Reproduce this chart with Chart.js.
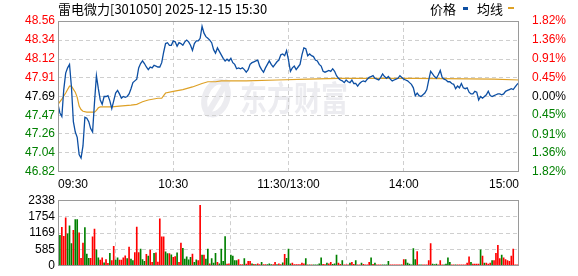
<!DOCTYPE html>
<html>
<head>
<meta charset="utf-8">
<script src="https://cdn.jsdelivr.net/npm/chart.js@4"></script>
<style>
  body { margin: 0; background: #fff; }
  #wrap { position: relative; width: 578px; height: 276px; }
  canvas { position: absolute; left: 0; }
  #prezzo { top: 0; }
  #volume { top: 190px; }
</style>
</head>
<body>
<div id="wrap">
  <canvas id="prezzo" width="578" height="192"></canvas>
  <canvas id="volume" width="578" height="86"></canvas>
</div>
<script>
const titolo = "雷电微力[301050] 2025-12-15 15:30";
const prevClose = 47.69;

// asse tempo: indice del minuto (0 = 09:30, 120 = 11:30/13:00, 240 = 15:00)
const timeTicks = [0, 60, 120, 180, 240];
const timeLabels = ["09:30", "10:30", "11:30/13:00", "14:00", "15:00"];
const priceTicks = [48.56, 48.34, 48.12, 47.91, 47.69, 47.47, 47.26, 47.04, 46.82];
const pctTicks = [1.82, 1.36, 0.91, 0.45, 0, -0.45, -0.91, -1.36, -1.82];
const volTicks = [0, 585, 1169, 1754, 2338];

// prezzo minuto per minuto
const price = [
  47.60, 47.50, 47.46, 47.77, 47.96, 48.02, 48.06, 47.80, 47.40, 47.28,
  47.22, 47.02, 46.98, 47.12, 47.45, 47.44, 47.40, 47.32, 47.28, 47.62,
  47.93, 47.78, 47.65, 47.60, 47.69, 47.69, 47.70, 47.64, 47.55, 47.64,
  47.73, 47.76, 47.72, 47.67, 47.69, 47.68, 47.69, 47.72, 47.78, 47.85,
  47.87, 47.89, 48.02, 48.07, 48.10, 48.07, 48.03, 48.00, 48.03, 48.02,
  48.05, 48.04, 48.03, 48.03, 48.08, 48.20, 48.30, 48.31, 48.28, 48.28,
  48.33, 48.32, 48.27, 48.31, 48.30, 48.28, 48.32, 48.34, 48.32, 48.28,
  48.22, 48.30, 48.33, 48.33, 48.36, 48.50, 48.42, 48.38, 48.36, 48.34,
  48.31, 48.23, 48.19, 48.25, 48.21, 48.17, 48.13, 48.10, 48.12, 48.10,
  48.13, 48.08, 48.06, 48.01, 48.02, 48.01, 48.02, 48.00, 47.97, 48.00,
  48.06, 48.08, 48.09, 48.10, 48.11, 48.04, 48.00, 47.97, 48.02, 48.06,
  48.10, 48.06, 48.03, 48.06, 48.09, 48.11, 48.17, 48.18, 48.16, 48.22,
  48.11, 47.98, 48.02, 48.04, 48.00, 48.03, 48.06, 48.17, 48.25, 48.24,
  48.16, 48.18, 48.16, 48.15, 48.11, 48.10, 48.06, 48.04, 47.98, 47.97,
  47.98, 47.99, 47.98, 48.01, 47.98, 47.93, 47.90, 47.88, 47.87, 47.85,
  47.88, 47.86, 47.85, 47.88, 47.84, 47.84, 47.81, 47.84, 47.86, 47.87,
  47.86, 47.89, 47.91, 47.92, 47.93, 47.90, 47.89, 47.88, 47.91, 47.95,
  47.92, 47.90, 47.92, 47.89, 47.87, 47.88, 47.89, 47.90, 47.93, 47.91,
  47.89, 47.88, 47.87, 47.85, 47.83, 47.79, 47.70, 47.73, 47.70, 47.69,
  47.71, 47.73, 47.77, 47.88, 47.98, 47.95, 47.92, 47.90, 47.94, 47.99,
  47.91, 47.89, 47.88, 47.86, 47.86, 47.84, 47.83, 47.78, 47.81, 47.79,
  47.84, 47.79, 47.78, 47.79, 47.74, 47.72, 47.72, 47.75, 47.74, 47.65,
  47.69, 47.67, 47.69, 47.71, 47.75, 47.70, 47.69, 47.70, 47.71, 47.72,
  47.72, 47.71, 47.72, 47.75, 47.76, 47.77, 47.78, 47.77, 47.80, 47.83,
  47.85
];

// linea media (letta a punti)
const avgMinutes = [0, 2, 4, 5, 6, 7, 9, 10, 11, 12, 13, 15, 19, 20, 21, 22, 28, 32, 38, 41,
  42, 44, 47, 52, 54, 55, 56, 60, 65, 70, 75, 78, 82, 85, 98, 114, 130, 146, 186, 227, 240];
const avgValues = [47.60, 47.66, 47.73, 47.77, 47.81, 47.81, 47.74, 47.68, 47.58, 47.54,
  47.52, 47.51, 47.51, 47.53, 47.56, 47.57, 47.57, 47.58, 47.59, 47.60,
  47.61, 47.63, 47.65, 47.67, 47.67, 47.70, 47.73, 47.75, 47.77, 47.80,
  47.84, 47.86, 47.86, 47.87, 47.87, 47.88, 47.89, 47.90, 47.90, 47.89, 47.88];

// volume per minuto
const volume = [
  1390, 1085, 1369, 1053, 1706, 1137, 1421, 790, 1264, 1643,
  1643, 1179, 263, 811, 1358, 421, 263, 263, 1032, 1306,
  569, 284, 200, 284, 105, 221, 84, 442, 190, 695,
  200, 284, 200, 200, 284, 358, 253, 663, 242, 190,
  474, 1379, 474, 600, 221, 158, 411, 347, 558, 126,
  442, 463, 137, 1674, 1032, 1032, 495, 432, 432, 390,
  305, 326, 463, 126, 811, 621, 242, 316,
  211, 305, 421, 126, 211, 190, 2159, 379, 379, 242,
  600, 74, 253, 95, 442, 126, 74, 600, 158, 1042,
  63, 74, 379, 347, 190, 190, 221, 42, 42, 253,
  63, 158, 158, 74, 53, 42, 74, 42, 126, 42,
  42, 42, 74, 42, 42, 126, 42, 74, 42, 105,
  411, 263, 600, 74, 95, 42, 42, 42, 42, 95,
  74, 253, 32, 32, 32, 32, 32, 32, 74, 284,
  53, 42, 95, 74, 126, 53, 74, 379, 95, 53,
  190, 32, 32, 32, 95, 126, 53, 190, 32, 32,
  95, 53, 32, 32, 126, 284, 53, 95, 32,
  32, 32, 32, 32, 32, 158, 32, 32, 32, 32,
  32, 32, 32, 221, 221, 95, 63, 32, 611, 221,
  505, 32, 32, 32, 32, 32, 190, 790, 63, 42,
  63, 32, 190, 32, 32, 63, 284, 126, 32, 32,
  32, 32, 32, 32, 32, 32, 95, 316, 126, 63,
  63, 63, 63, 569, 347, 95, 95, 63, 95, 190,
  190, 442, 727, 253, 379, 284, 221, 190, 158, 347,
  600, 32, 32, 569
];
// r = rialzo (rosso), g = ribasso (verde)
const volDir = (
  "ggrrrgggrggrrrgggrrrggrrgrrgrrggrrrrgrggrrrgggrgrrgrrrrrggrgrrgrrgg" + "g" +
  "ggrggrrgrggrgggrggggrrggggrrrgrrrgrgrrgrrgggrrgrrgrgggrrrrrrrgrgrgggggrrgrrgggrrgrrrgrrgrrgrrrrgrgr" +
  "rrggggrrrrrrgrggggggrggrrrrrgggrrrggggrrgrrrrrrrgrrrrgrgrrrgrrrrgrrrrrrrrr"
).split("");

const BLU = "#0d4fa3";
const ARANCIO = "#dea126";
const ROSSO = "#ff0000";
const VERDE = "#008000";
const GRIGLIA = "#cfcfcf";
const BORDO = "#9a9a9a";

Chart.defaults.font.family = '"Liberation Sans", Arial, sans-serif';
Chart.defaults.font.size = 12;
Chart.defaults.color = "#000";

function coloreLivello(v) {
  if (v > 0.0001) return ROSSO;
  if (v < -0.0001) return VERDE;
  return "#000";
}

function mettiTicks(lista) {
  return function (scale) {
    scale.ticks = lista.map(function (v) { return { value: v }; });
  };
}

const lineeInterne = function (ctx) {
  const v = ctx.tick ? ctx.tick.value : null;
  return v === 60 || v === 120 || v === 180 ? GRIGLIA : "rgba(0,0,0,0)";
};

const cornice = {
  id: "cornice",
  afterDatasetsDraw(chart) {
    const a = chart.chartArea;
    const c = chart.ctx;
    c.save();
    c.strokeStyle = BORDO;
    c.lineWidth = 1;
    c.strokeRect(Math.round(a.left) + 0.5, Math.round(a.top) + 0.5,
      Math.round(a.right - a.left) - 1, Math.round(a.bottom - a.top) - 1);
    c.restore();
  }
};

const filigrana = {
  id: "filigrana",
  beforeDraw(chart) {
    const c = chart.ctx;
    c.save();
    c.fillStyle = "#ececf0";
    c.strokeStyle = "#ececf0";
    // logo
    c.lineWidth = 6;
    c.beginPath();
    c.ellipse(216, 98, 11, 17, 0.35, 0, Math.PI * 2);
    c.stroke();
    c.beginPath();
    c.moveTo(206, 116);
    c.lineTo(228, 80);
    c.stroke();
    c.translate(240, 98);
    c.scale(1, 1.25);
    c.font = 'bold 27px "Noto Sans CJK SC"';
    c.textBaseline = "middle";
    c.fillText("东方财富", 0, 0);
    c.restore();
  }
};

const testata = {
  id: "testata",
  afterDraw(chart) {
    const c = chart.ctx;
    c.save();
    c.fillStyle = "#000";
    c.textBaseline = "middle";
    c.font = '13px "Noto Sans CJK SC"';
    c.fillText(titolo, 58, 9);
    c.fillText("价格", 430, 9);
    c.fillText("均线", 477, 9);
    c.fillStyle = BLU;
    c.fillRect(463, 7, 5, 3);
    c.fillStyle = ARANCIO;
    c.fillRect(508, 7, 6, 2);
    c.restore();
  }
};

const ctxPrezzo = document.getElementById("prezzo").getContext("2d");
new Chart(ctxPrezzo, {
  type: "line",
  data: {
    datasets: [
      {
        label: "价格",
        data: price.map(function (v, i) { return { x: i, y: v }; }),
        borderColor: BLU,
        borderWidth: 1.3,
        pointRadius: 0,
        tension: 0,
        yAxisID: "y"
      },
      {
        label: "均线",
        data: avgMinutes.map(function (m, i) { return { x: m, y: avgValues[i] }; }),
        borderColor: ARANCIO,
        borderWidth: 1.2,
        pointRadius: 0,
        tension: 0,
        yAxisID: "y"
      }
    ]
  },
  options: {
    responsive: false,
    animation: false,
    events: [],
    layout: { padding: { top: 21, left: 0, right: 0, bottom: 0 } },
    plugins: { legend: { display: false }, tooltip: { enabled: false } },
    scales: {
      x: {
        type: "linear",
        min: 0,
        max: 240,
        afterBuildTicks: mettiTicks(timeTicks),
        afterFit: function (scale) { scale.height = 20; },
        grid: { color: lineeInterne, drawTicks: false },
        border: { display: false, dash: [4, 3] },
        ticks: {
          align: "inner",
          padding: 5,
          maxRotation: 0,
          autoSkip: false,
          callback: function (v) { return timeLabels[timeTicks.indexOf(v)]; }
        }
      },
      y: {
        position: "left",
        min: priceTicks[priceTicks.length - 1],
        max: priceTicks[0],
        afterBuildTicks: mettiTicks(priceTicks),
        afterFit: function (scale) { scale.width = 58; },
        grid: {
          drawTicks: false,
          color: function (ctx) {
            const v = ctx.tick ? ctx.tick.value : null;
            return v === priceTicks[0] || v === priceTicks[priceTicks.length - 1] ? "rgba(0,0,0,0)" : GRIGLIA;
          }
        },
        border: { display: false, dash: [4, 3] },
        ticks: {
          padding: 3,
          autoSkip: false,
          color: function (ctx) { return coloreLivello(ctx.tick.value - prevClose); },
          callback: function (v) { return v.toFixed(2); }
        }
      },
      y2: {
        position: "right",
        min: pctTicks[pctTicks.length - 1],
        max: pctTicks[0],
        afterBuildTicks: mettiTicks(pctTicks),
        afterFit: function (scale) { scale.width = 59; },
        grid: { display: false },
        border: { display: false },
        ticks: {
          padding: 5,
          autoSkip: false,
          color: function (ctx) { return coloreLivello(ctx.tick.value); },
          callback: function (v) { return Math.abs(v).toFixed(2) + "%"; }
        }
      }
    }
  },
  plugins: [filigrana, cornice, testata]
});

const ctxVolume = document.getElementById("volume").getContext("2d");
new Chart(ctxVolume, {
  type: "bar",
  data: {
    datasets: [
      {
        label: "成交量",
        data: volume.map(function (v, i) { return { x: i, y: v }; }),
        backgroundColor: volDir.map(function (d) { return d === "r" ? ROSSO : VERDE; }),
        barThickness: 1,
        grouped: false
      }
    ]
  },
  options: {
    responsive: false,
    animation: false,
    events: [],
    layout: { padding: { top: 6, left: 0, right: 59, bottom: 0 } },
    plugins: { legend: { display: false }, tooltip: { enabled: false } },
    scales: {
      x: {
        type: "linear",
        min: 0,
        max: 240,
        offset: false,
        afterBuildTicks: mettiTicks(timeTicks),
        afterFit: function (scale) { scale.height = 6; },
        grid: { color: lineeInterne, drawTicks: false },
        border: { display: false, dash: [4, 3] },
        ticks: { display: false }
      },
      y: {
        min: 0,
        max: volTicks[volTicks.length - 1],
        afterBuildTicks: mettiTicks(volTicks),
        afterFit: function (scale) { scale.width = 58; },
        grid: {
          drawTicks: false,
          color: function (ctx) {
            const v = ctx.tick ? ctx.tick.value : null;
            return v === 0 || v === volTicks[volTicks.length - 1] ? "rgba(0,0,0,0)" : GRIGLIA;
          }
        },
        border: { display: false, dash: [4, 3] },
        ticks: {
          padding: 3,
          autoSkip: false,
          color: "#000",
          callback: function (v) { return String(v); }
        }
      }
    }
  },
  plugins: [cornice]
});
</script>
</body>
</html>
